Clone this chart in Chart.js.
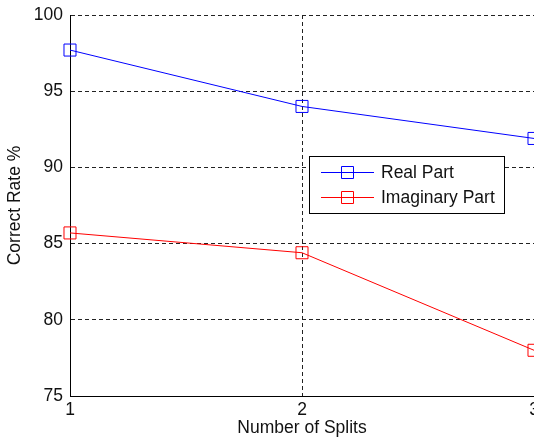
<!DOCTYPE html>
<html>
<head>
<meta charset="utf-8">
<script src="https://cdn.jsdelivr.net/npm/chart.js@4"></script>
<style>
    body { margin: 0; background: #fff; }
    #wrap { width: 534px; height: 447px; }
</style>
</head>
<body>
<div id="wrap"><canvas id="splitChart" width="534" height="447"></canvas></div>
<script>
// values
const splits = [1, 2, 3];
const realPart = [97.7, 94.0, 91.9];
const imagPart = [85.7, 84.4, 78.0];
const seriesNames = ['Real Part', 'Imaginary Part'];
const seriesColors = ['#0000ff', '#ff0000'];

const textFont = { family: "'Liberation Sans', Arial, sans-serif", size: 17.5 };
const textColor = '#111';

function toPoints(values) {
    return splits.map((s, i) => ({ x: s, y: values[i] }));
}

// MATLAB-like legend box sitting inside the plot
const boxLegend = {
    id: 'boxLegend',
    afterDraw(chart) {
        const ctx = chart.ctx;
        const x0 = 309.5, y0 = 156.5, w = 195, h = 57;
        ctx.save();
        ctx.fillStyle = '#fff';
        ctx.fillRect(x0, y0, w, h);
        ctx.strokeStyle = '#000';
        ctx.lineWidth = 1;
        ctx.strokeRect(x0, y0, w, h);

        seriesNames.forEach((name, i) => {
            const y = 172.5 + i * 25;
            ctx.strokeStyle = seriesColors[i];
            ctx.lineWidth = 1;
            ctx.beginPath();
            ctx.moveTo(321, y);
            ctx.lineTo(374, y);
            ctx.stroke();
            ctx.beginPath();
            ctx.rect(341.5, y - 6, 12, 12);
            ctx.stroke();

            ctx.fillStyle = textColor;
            ctx.font = textFont.size + 'px ' + textFont.family;
            ctx.textBaseline = 'middle';
            ctx.textAlign = 'left';
            ctx.fillText(name, 381, y + 1);
        });
        ctx.restore();
    }
};

const ctx = document.getElementById('splitChart').getContext('2d');
const splitChart = new Chart(ctx, {
    type: 'line',
    data: {
        datasets: [realPart, imagPart].map((vals, i) => ({
            label: seriesNames[i],
            data: toPoints(vals),
            borderColor: seriesColors[i],
            backgroundColor: 'rgba(0,0,0,0)',
            borderWidth: 1,
            pointStyle: 'rect',
            pointRadius: 8.5,
            pointBorderWidth: 1,
            pointBorderColor: seriesColors[i],
            pointBackgroundColor: 'rgba(0,0,0,0)',
            fill: false,
            tension: 0,
            clip: false
        }))
    },
    options: {
        responsive: false,
        animation: false,
        layout: { autoPadding: false, padding: { top: 15, right: 0, bottom: 0, left: 0 } },
        plugins: {
            legend: { display: false },
            tooltip: { enabled: false }
        },
        scales: {
            x: {
                type: 'linear',
                min: 1,
                max: 3,
                ticks: { stepSize: 1, padding: 4, color: textColor, font: textFont },
                grid: { color: '#222', lineWidth: 1, drawTicks: false },
                border: { display: true, color: '#000', width: 1, dash: [4, 3] },
                title: {
                    display: true,
                    text: 'Number of Splits',
                    color: textColor,
                    font: textFont,
                    padding: { top: 0, bottom: 8 }
                },
                afterFit(scale) {
                    scale.height = 51;
                    scale.paddingLeft = 0;
                    scale.paddingRight = 0;
                }
            },
            y: {
                type: 'linear',
                min: 75,
                max: 100,
                ticks: { stepSize: 5, padding: 7, color: textColor, font: textFont },
                grid: { color: '#222', lineWidth: 1, drawTicks: false },
                border: { display: true, color: '#000', width: 1, dash: [4, 3] },
                title: {
                    display: true,
                    text: 'Correct Rate %',
                    color: textColor,
                    font: textFont,
                    padding: { top: 5, bottom: 0 }
                },
                afterFit(scale) {
                    scale.width = 70;
                    scale.paddingTop = 0;
                    scale.paddingBottom = 0;
                }
            }
        }
    },
    plugins: [boxLegend]
});
</script>
</body>
</html>
